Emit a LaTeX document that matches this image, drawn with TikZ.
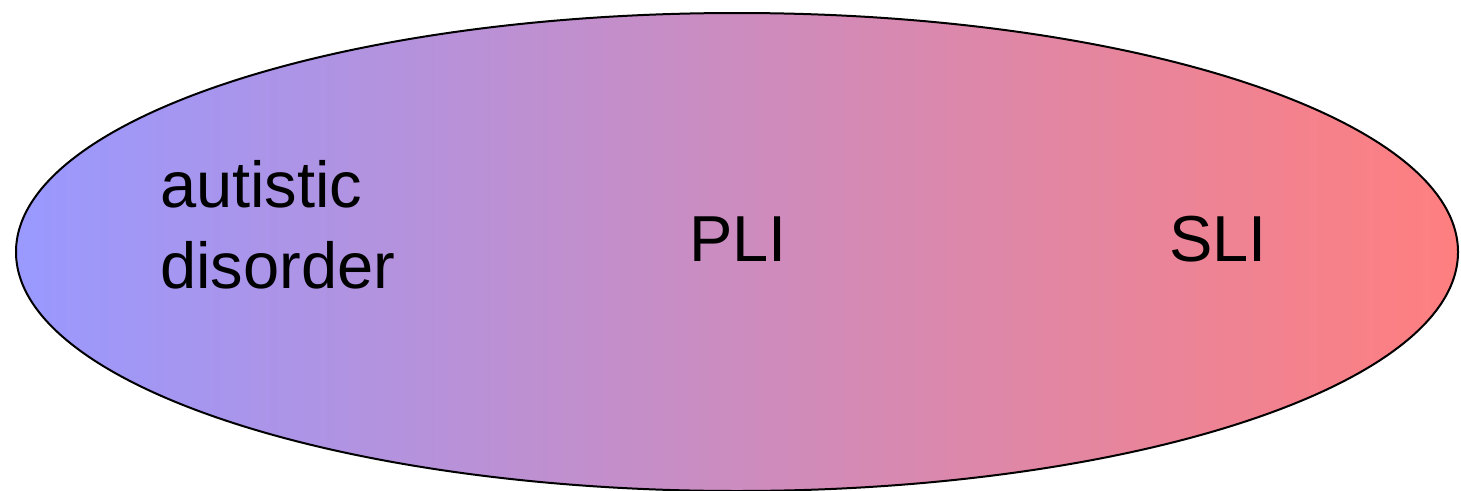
\documentclass[tikz,border=0pt]{standalone}
\usepackage{fontspec}
\setmainfont{Liberation Sans}
\definecolor{leftblue}{RGB}{153,153,255}
\definecolor{midmauve}{RGB}{206,139,206}
\definecolor{rightred}{RGB}{255,127,127}
\tikzset{
  spectrum/.style={draw=black, line width=2pt, left color=leftblue, middle color=midmauve, right color=rightred},
  label/.style={inner sep=0pt, font=\fontsize{65}{81}\selectfont}
}

\begin{document}
\begin{tikzpicture}[x=1pt, y=-1pt]

  %% ellipse with left-to-right shading
  \path[spectrum] (737,252) ellipse [x radius=721, y radius=239];

  %% labels (base = last line for the two-line one)
  \node[label, anchor=base west, align=left] (autism) at (160,288) {autistic\\disorder};
  \node[label, anchor=base] (pli) at (738,261) {PLI};
  \node[label, anchor=base] (sli) at (1218,261) {SLI};

  \pgfresetboundingbox
  \path[use as bounding box] (0,0) rectangle (1461,490);
\end{tikzpicture}
\end{document}
